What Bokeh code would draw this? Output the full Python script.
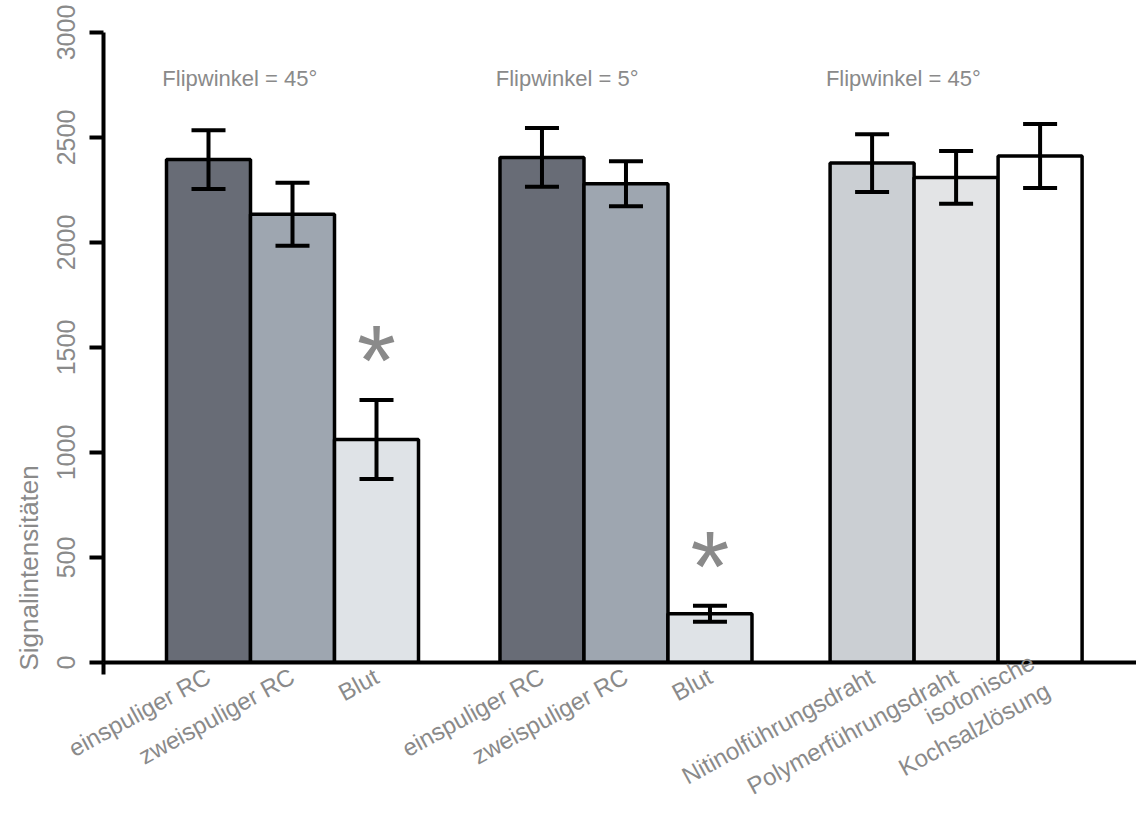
import math
from bokeh.plotting import figure
from bokeh.models import (Range1d, FixedTicker, Whisker, TeeHead, ColumnDataSource, Title)
from bokeh.core.properties import value
from bokeh.embed import file_html
from bokeh.resources import INLINE

# ---- data ----
groups = ["Flipwinkel = 45°", "Flipwinkel = 5°", "Flipwinkel = 45°"]
categories = [
    ["einspuliger RC", "zweispuliger RC", "Blut"],
    ["einspuliger RC", "zweispuliger RC", "Blut"],
    ["Nitinolführungsdraht", "Polymerführungsdraht", "isotonische\nKochsalzlösung"],
]
values = [
    [2395, 2135, 1062],
    [2405, 2280, 232],
    [2378, 2310, 2412],
]
errors = [
    [140, 150, 188],
    [140, 107, 38],
    [138, 126, 152],
]
significant = [
    ["", "", "*"],
    ["", "", "*"],
    ["", "", ""],
]
y_ticks = [0, 500, 1000, 1500, 2000, 2500, 3000]
y_label = "Signalintensitäten"

# ---- styling / layout ----
colors = [
    ["#686c76", "#9ea6b0", "#dfe3e7"],
    ["#686c76", "#9ea6b0", "#dfe3e7"],
    ["#cbcfd3", "#e3e4e6", "#ffffff"],
]
group_start = [1.25, 5.22, 9.15]
FONT = "Liberation Sans"
GRAY = "#8a8a8a"
W, H = 1136, 814
LEFT, TOP, BOTTOM = 103, 32, 150
BAR_PX = 84

xs, tops, lows, highs, fills, labels = [], [], [], [], [], []
star_x, star_y, star_t = [], [], []
for g in range(3):
    for i in range(3):
        x = round(group_start[g] + i, 2)
        v = values[g][i]
        e = errors[g][i]
        xs.append(x)
        tops.append(v)
        lows.append(v - e)
        highs.append(v + e)
        fills.append(colors[g][i])
        labels.append(categories[g][i])
        if significant[g][i]:
            star_x.append(x)
            star_y.append(v + e + 190)
            star_t.append(significant[g][i])

src = ColumnDataSource(dict(x=xs, top=tops, lower=lows, upper=highs, fill=fills))

p = figure(width=W, height=H,
           x_range=Range1d(0, (W - LEFT) / BAR_PX), y_range=Range1d(0, 3000),
           output_backend="svg", toolbar_location=None,
           min_border_left=LEFT, min_border_right=0, min_border_top=TOP,
           min_border_bottom=BOTTOM)
p.outline_line_color = None
p.grid.visible = False
p.background_fill_color = "white"
p.border_fill_color = "white"

p.vbar(x="x", top="top", bottom=0, width=1.0, source=src,
       fill_color="fill", line_color="black", line_width=3.5)

head_u = TeeHead(size=34, line_width=4, line_color="black")
head_l = TeeHead(size=34, line_width=4, line_color="black")
w = Whisker(base="x", upper="upper", lower="lower", source=src,
            line_width=4, line_color="black",
            upper_head=head_u, lower_head=head_l, level="annotation")
p.add_layout(w)

# asterisks
p.text(x=star_x, y=star_y, text=star_t, text_font=value(FONT),
       text_font_size="100px", text_color=GRAY,
       text_align="center", text_baseline="middle")

# group titles
title_src = ColumnDataSource(dict(
    x=[group_start[g] - 0.55 for g in range(3)],
    y=[2780] * 3,
    t=groups))
p.text(x="x", y="y", text="t", source=title_src, text_font=value(FONT),
       text_font_size="22px", text_color=GRAY,
       text_align="left", text_baseline="middle")

# y axis
ya = p.yaxis[0]
ya.ticker = FixedTicker(ticks=y_ticks)
ya.axis_line_width = 4
ya.axis_line_color = "black"
ya.major_tick_line_width = 4
ya.major_tick_line_color = "black"
ya.major_tick_in = 0
ya.major_tick_out = 14
ya.minor_tick_line_color = None
ya.major_label_orientation = "vertical"
ya.major_label_standoff = 15
ya.major_label_text_font = FONT
ya.major_label_text_font_size = "25px"
ya.major_label_text_color = GRAY

# x axis
xa = p.xaxis[0]
xa.ticker = FixedTicker(ticks=xs, minor_ticks=[0])
xa.major_label_overrides = {x: l for x, l in zip(xs, labels)}
xa.axis_line_width = 4
xa.axis_line_color = "black"
xa.major_tick_line_color = None
xa.major_tick_out = 0
xa.major_tick_in = 0
xa.minor_tick_line_width = 4
xa.minor_tick_line_color = "black"
xa.minor_tick_out = 12
xa.minor_tick_in = 0
xa.major_label_orientation = 0.5
xa.major_label_standoff = 0
xa.major_label_text_font = FONT
xa.major_label_text_font_size = "24px"
xa.major_label_text_color = GRAY

ytitle = Title(text=y_label, align="left", offset=-8, standoff=20,
               text_font=FONT, text_font_size="26px", text_color=GRAY,
               text_font_style="normal")
p.add_layout(ytitle, "left")

open("out.html", "w").write(file_html(p, INLINE))
